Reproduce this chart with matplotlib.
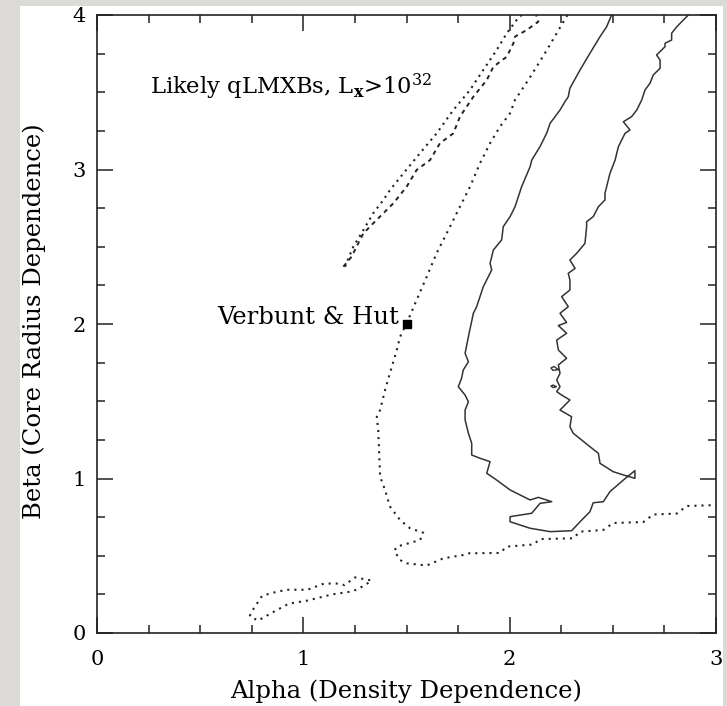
import matplotlib.pyplot as plt
from matplotlib.patches import Rectangle

plt.rcParams['font.family'] = 'DejaVu Serif'
plt.rcParams['mathtext.fontset'] = 'dejavuserif'

# main dotted contour: from the top edge down past Verbunt & Hut, hooking back out to the right
dot_main_x = [2.28, 2.228, 2.180, 2.131, 2.090, 2.026, 2.002, 1.953, 1.905, 1.856, 1.808, 1.743,
              1.711, 1.646, 1.598, 1.549, 1.501, 1.469, 1.453, 1.420, 1.396, 1.372, 1.356, 1.363,
              1.367, 1.372, 1.396, 1.420, 1.469, 1.517, 1.581, 1.566, 1.453, 1.441, 1.469, 1.501,
              1.598, 1.678, 1.775, 1.798, 1.953, 1.986, 2.115, 2.147, 2.308, 2.341, 2.454, 2.502,
              2.648, 2.696, 2.810, 2.858, 3.0]
dot_main_y = [4.0, 3.882, 3.773, 3.666, 3.579, 3.450, 3.364, 3.277, 3.170, 3.040, 2.889, 2.717,
              2.630, 2.458, 2.306, 2.155, 2.005, 1.918, 1.832, 1.683, 1.573, 1.443, 1.400, 1.314,
              1.184, 1.012, 0.926, 0.818, 0.731, 0.678, 0.649, 0.602, 0.559, 0.531, 0.472, 0.451,
              0.437, 0.483, 0.505, 0.516, 0.518, 0.559, 0.573, 0.608, 0.613, 0.656, 0.667, 0.712,
              0.718, 0.767, 0.773, 0.822, 0.828]

# small dotted island near the bottom
dot_low_x = [0.74, 0.76, 0.80, 0.85, 0.92, 1.02, 1.06, 1.10, 1.17, 1.20, 1.25, 1.33, 1.30,
             1.24, 1.14, 1.02, 0.93, 0.86, 0.78, 0.74]
dot_low_y = [0.11, 0.16, 0.24, 0.26, 0.28, 0.28, 0.30, 0.32, 0.32, 0.31, 0.36, 0.34, 0.31,
             0.27, 0.25, 0.21, 0.19, 0.14, 0.08, 0.11]

# narrow upper band: left edge dotted, right edge dashed
band_dot_x = [1.202, 1.242, 1.291, 1.339, 1.388, 1.420, 1.485, 1.565, 1.646, 1.727, 1.808,
              1.872, 1.937, 1.986, 2.034, 2.058]
band_dot_y = [2.371, 2.500, 2.608, 2.717, 2.803, 2.867, 2.975, 3.105, 3.234, 3.385, 3.515,
              3.644, 3.773, 3.882, 3.968, 4.0]
band_dash_x = [1.194, 1.234, 1.266, 1.291, 1.339, 1.388, 1.436, 1.501, 1.549, 1.614, 1.662,
               1.727, 1.759, 1.792, 1.824, 1.889, 1.921, 1.986, 2.018, 2.026, 2.083, 2.139, 2.128]
band_dash_y = [2.371, 2.436, 2.522, 2.587, 2.652, 2.717, 2.781, 2.889, 2.997, 3.061, 3.170,
               3.234, 3.342, 3.407, 3.471, 3.579, 3.665, 3.730, 3.817, 3.860, 3.903, 3.957, 4.0]

# solid contour: left branch down, hook at the bottom, zig-zag right branch back up
solid_x = [2.494, 2.470, 2.438, 2.389, 2.341, 2.292, 2.284, 2.268, 2.244, 2.196, 2.179, 2.147,
           2.107, 2.099, 2.058, 2.026, 2.002, 1.969, 1.961, 1.921, 1.905, 1.913, 1.872, 1.840,
           1.824, 1.800, 1.784, 1.800, 1.775, 1.767, 1.751, 1.784, 1.800, 1.784, 1.784, 1.800,
           1.816, 1.816, 1.856, 1.905, 1.889, 1.937, 2.002, 2.099, 2.139, 2.204, 2.147, 2.107,
           2.002, 2.002, 2.099, 2.196, 2.300, 2.341, 2.389, 2.405, 2.454, 2.486, 2.551, 2.607,
           2.607, 2.551, 2.502, 2.438, 2.430, 2.389, 2.308, 2.292, 2.300, 2.244, 2.292, 2.252,
           2.228, 2.244, 2.228, 2.244, 2.236, 2.276, 2.236, 2.228, 2.276, 2.236, 2.276, 2.244,
           2.284, 2.252, 2.292, 2.292, 2.284, 2.317, 2.292, 2.325, 2.365, 2.373, 2.373, 2.405,
           2.430, 2.462, 2.462, 2.486, 2.511, 2.527, 2.559, 2.583, 2.551, 2.591, 2.616, 2.640,
           2.656, 2.680, 2.696, 2.729, 2.729, 2.712, 2.753, 2.753, 2.785, 2.785, 2.810, 2.834,
           2.866]
solid_y = [4.0, 3.924, 3.860, 3.752, 3.644, 3.526, 3.471, 3.439, 3.385, 3.299, 3.234, 3.148,
           3.061, 3.018, 2.889, 2.759, 2.695, 2.630, 2.544, 2.479, 2.393, 2.350, 2.241, 2.112,
           2.069, 1.918, 1.810, 1.756, 1.702, 1.649, 1.594, 1.540, 1.497, 1.443, 1.379, 1.293,
           1.228, 1.152, 1.131, 1.109, 1.034, 0.990, 0.926, 0.861, 0.878, 0.850, 0.839, 0.775,
           0.753, 0.720, 0.678, 0.656, 0.662, 0.720, 0.785, 0.843, 0.850, 0.915, 0.990, 1.051,
           1.001, 1.023, 1.044, 1.098, 1.163, 1.206, 1.293, 1.335, 1.400, 1.443, 1.508, 1.540,
           1.562, 1.594, 1.637, 1.681, 1.735, 1.778, 1.832, 1.896, 1.940, 1.990, 2.010, 2.069,
           2.112, 2.177, 2.220, 2.285, 2.328, 2.360, 2.414, 2.458, 2.522, 2.630, 2.662, 2.695,
           2.759, 2.803, 2.846, 2.975, 3.061, 3.148, 3.234, 3.256, 3.309, 3.342, 3.385, 3.450,
           3.515, 3.558, 3.612, 3.655, 3.709, 3.741, 3.795, 3.817, 3.838, 3.882, 3.924, 3.957,
           4.0]

# two tiny closed loops inside the solid contour
loop1_x = [2.236, 2.215, 2.200, 2.210, 2.236]
loop1_y = [1.705, 1.725, 1.715, 1.700, 1.705]
loop2_x = [2.225, 2.210, 2.200, 2.212, 2.225]
loop2_y = [1.595, 1.605, 1.598, 1.588, 1.595]

vh_alpha, vh_beta = [1.5], [2.0]

fig = plt.figure(figsize=(7.27, 7.06), dpi=100, facecolor='#dcdad6')
fig.patches.append(Rectangle((20 / 727, 0), 703 / 727, 700 / 706, transform=fig.transFigure,
                             facecolor='white', edgecolor='none', zorder=-10))
ax = fig.add_axes([97 / 727, 73 / 706, 619 / 727, 618 / 706])
ax.set_zorder(1)
ax.patch.set_alpha(0)

ink = '#222222'
ax.plot(dot_main_x, dot_main_y, color=ink, lw=1.5, ls=(0, (1, 2.4)))
ax.plot(dot_low_x, dot_low_y, color=ink, lw=1.5, ls=(0, (1, 2.4)))
ax.plot(band_dot_x, band_dot_y, color=ink, lw=1.5, ls=(0, (1, 2.2)))
ax.plot(band_dash_x, band_dash_y, color=ink, lw=1.4, ls=(0, (2.2, 2.2)))
ax.plot(solid_x, solid_y, color='#333333', lw=1.1)
ax.plot(loop1_x, loop1_y, color='#333333', lw=1.0)
ax.plot(loop2_x, loop2_y, color='#333333', lw=1.0)
ax.plot(vh_alpha, vh_beta, marker='s', color='black', ms=6, ls='none')

ax.text(1.465, 2.045, 'Verbunt & Hut', ha='right', va='center', fontsize=17.5)
ax.text(0.255, 3.535, r'Likely qLMXBs, L$_{\mathbf{x}}$>10$^{32}$', ha='left', va='center',
        fontsize=16.3)

ax.set_xlim(0, 3)
ax.set_ylim(0, 4)
ax.set_xticks([0, 1, 2, 3])
ax.set_yticks([0, 1, 2, 3, 4])
ax.set_xticks([i * 0.25 for i in range(13)], minor=True)
ax.set_yticks([i * 0.25 for i in range(17)], minor=True)
ax.tick_params(which='both', direction='in', top=True, right=True, width=1.1, color=ink)
ax.tick_params(which='major', length=11.5, labelsize=15)
ax.tick_params(axis='x', which='major', pad=12)
ax.tick_params(axis='y', which='major', pad=8)
ax.tick_params(which='minor', length=5.8)
for sp in ax.spines.values():
    sp.set_linewidth(1.2)
    sp.set_color(ink)

ax.set_xlabel('Alpha (Density Dependence)', fontsize=17.5)
ax.set_ylabel('Beta (Core Radius Dependence)', fontsize=17.5)
ax.xaxis.set_label_coords(0.5, -0.075)
ax.yaxis.set_label_coords(-0.083, 0.505)

fig.savefig('out.png', dpi=100, facecolor=fig.get_facecolor())
